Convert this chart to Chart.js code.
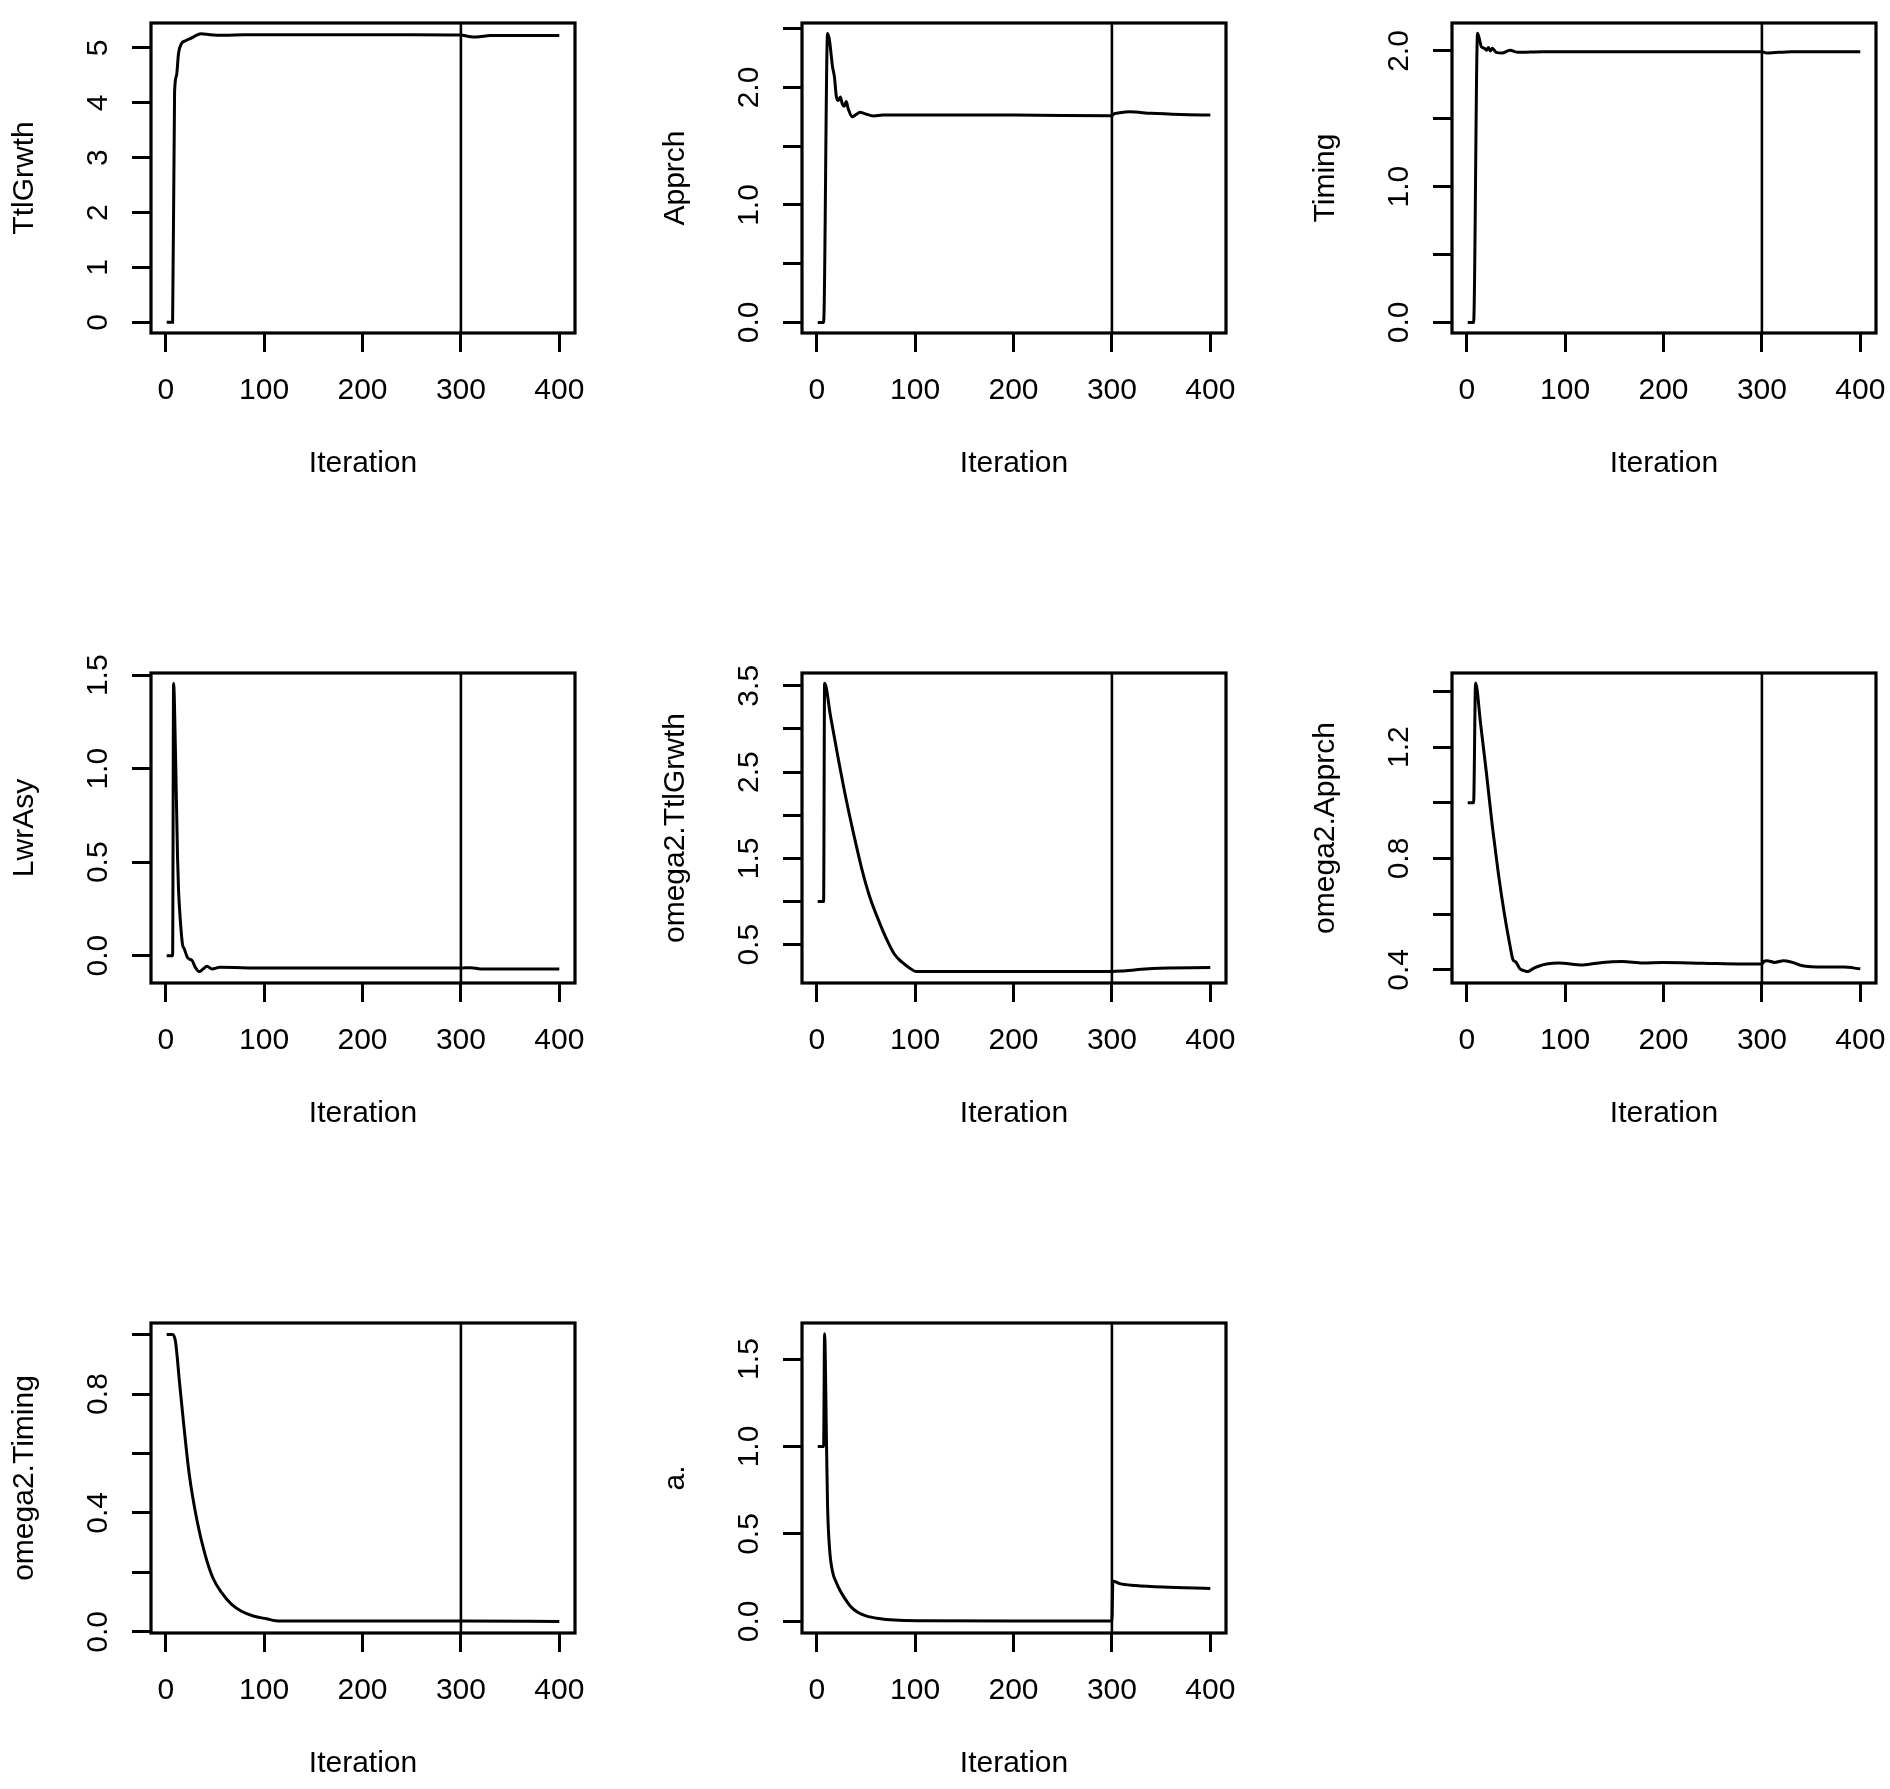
<!DOCTYPE html>
<html>
<head>
<meta charset="utf-8">
<script src="https://cdn.jsdelivr.net/npm/chart.js@4.4.1/dist/chart.umd.min.js"></script>
<style>
  body { margin: 0; background: #fff; width: 1890px; height: 1789px; overflow: hidden; position: relative; }
  canvas { position: absolute; }
</style>
</head>
<body>
<canvas id="p1"></canvas>
<canvas id="p2"></canvas>
<canvas id="p3"></canvas>
<canvas id="p4"></canvas>
<canvas id="p5"></canvas>
<canvas id="p6"></canvas>
<canvas id="p7"></canvas>
<canvas id="p8"></canvas>
<script>
// Shared x axis
const xTicks = [0, 100, 200, 300, 400];
const burnIn = 300;

// TtlGrwth
const iterTtlGrwth = [1, 7, 9, 11, 13, 16, 20, 26, 32, 36, 45, 60, 80, 150, 250, 300, 308, 316, 330, 400];
const valTtlGrwth = [0, 0, 4.2, 4.5, 4.9, 5.08, 5.13, 5.18, 5.24, 5.26, 5.24, 5.23, 5.24, 5.24, 5.24, 5.235, 5.21, 5.2, 5.225, 5.225];
const ticksTtlGrwth = [0, 1, 2, 3, 4, 5];
const labelsTtlGrwth = ['0', '1', '2', '3', '4', '5'];

// Apprch
const iterApprch = [1, 7, 11, 13, 16, 18, 20, 22, 24, 26, 28, 30, 32, 36, 40, 44, 48, 58, 67, 100, 200, 300, 302, 308, 318, 340, 370, 400];
const valApprch = [0, 0, 2.46, 2.4, 2.18, 2.09, 1.92, 1.89, 1.92, 1.86, 1.84, 1.88, 1.82, 1.75, 1.77, 1.79, 1.78, 1.757, 1.765, 1.765, 1.765, 1.76, 1.775, 1.785, 1.793, 1.78, 1.77, 1.765];
const ticksApprch = [0, 0.5, 1, 1.5, 2, 2.5];
const labelsApprch = ['0.0', '', '1.0', '', '2.0', ''];

// Timing
const iterTiming = [1, 7, 11, 15, 18, 20, 22, 24, 26, 30, 36, 44, 52, 77, 150, 300, 305, 330, 400];
const valTiming = [0, 0, 2.13, 2.03, 2.02, 2.005, 2.025, 2.0, 2.02, 1.99, 1.985, 2.005, 1.99, 1.995, 1.995, 1.995, 1.985, 1.995, 1.995];
const ticksTiming = [0, 0.5, 1, 1.5, 2];
const labelsTiming = ['0.0', '', '1.0', '', '2.0'];

// LwrAsy
const iterLwrAsy = [1, 7, 8, 10, 12, 13, 15, 17, 19, 22, 24, 27, 30, 34, 38, 42, 47, 55, 100, 200, 300, 310, 320, 400];
const valLwrAsy = [0, 0, 1.456, 1.065, 0.53, 0.355, 0.178, 0.062, 0.035, -0.009, -0.018, -0.027, -0.062, -0.085, -0.071, -0.057, -0.071, -0.062, -0.066, -0.066, -0.066, -0.064, -0.071, -0.071];
const ticksLwrAsy = [0, 0.5, 1, 1.5];
const labelsLwrAsy = ['0.0', '0.5', '1.0', '1.5'];

// omega2.TtlGrwth
const iterOmTtl = [1, 7, 8, 14, 22, 30, 38, 46, 54, 63, 71, 79, 87, 95, 101, 150, 250, 300, 312, 341, 400];
const valOmTtl = [1, 1, 3.53, 3.15, 2.65, 2.18, 1.76, 1.37, 1.05, 0.78, 0.565, 0.39, 0.295, 0.226, 0.19, 0.19, 0.19, 0.19, 0.197, 0.226, 0.237];
const ticksOmTtl = [0.5, 1, 1.5, 2, 2.5, 3, 3.5];
const labelsOmTtl = ['0.5', '', '1.5', '', '2.5', '', '3.5'];

// omega2.Apprch
const iterOmApp = [1, 7, 9, 14, 20, 26, 32, 38, 44, 47, 50, 54, 58, 62, 67, 73, 81, 93, 118, 138, 158, 179, 199, 240, 281, 300, 302, 305, 313, 322, 330, 340, 363, 383, 400];
const valOmApp = [1, 1, 1.43, 1.287, 1.108, 0.917, 0.75, 0.607, 0.487, 0.437, 0.428, 0.404, 0.398, 0.394, 0.404, 0.413, 0.421, 0.425, 0.418, 0.427, 0.43, 0.425, 0.427, 0.424, 0.421, 0.421, 0.43, 0.433, 0.427, 0.433, 0.428, 0.416, 0.41, 0.41, 0.404];
const ticksOmApp = [0.4, 0.6, 0.8, 1.0, 1.2, 1.4];
const labelsOmApp = ['0.4', '', '0.8', '', '1.2', ''];

// omega2.Timing
const iterOmTim = [1, 7, 10, 14, 18, 24, 32, 40, 48, 57, 67, 77, 89, 102, 116, 200, 300, 400];
const valOmTim = [1, 1, 0.975, 0.84, 0.707, 0.528, 0.371, 0.26, 0.181, 0.131, 0.092, 0.069, 0.053, 0.044, 0.036, 0.036, 0.036, 0.035];
const ticksOmTim = [0, 0.2, 0.4, 0.6, 0.8, 1.0];
const labelsOmTim = ['0.0', '', '0.4', '', '0.8', ''];

// a.
const iterA = [1, 7, 8, 10, 11, 13, 16, 20, 24, 28, 34, 42, 50, 63, 79, 108, 200, 300, 301, 308, 324, 352, 400];
const valA = [1, 1, 1.644, 1.0, 0.666, 0.42, 0.287, 0.221, 0.174, 0.136, 0.089, 0.051, 0.032, 0.017, 0.008, 0.004, 0.002, 0.002, 0.231, 0.216, 0.206, 0.197, 0.189];
const ticksA = [0, 0.5, 1, 1.5];
const labelsA = ['0.0', '0.5', '1.0', '1.5'];

const FONT = "'Liberation Sans', Arial, Helvetica, sans-serif";
const boxLefts = [151, 802, 1452];
const boxTops = [23, 673, 1323];
const boxW = 424, boxH = 310;
const axisW = 150, axisH = 149, padTop = 20, padRight = 14;

const panels = [
  { id: 'p1', name: 'TtlGrwth', iter: iterTtlGrwth, vals: valTtlGrwth, ticks: ticksTtlGrwth, labels: labelsTtlGrwth, yMin: -0.195, yMax: 5.455, col: 0, row: 0 },
  { id: 'p2', name: 'Apprch', iter: iterApprch, vals: valApprch, ticks: ticksApprch, labels: labelsApprch, yMin: -0.09, yMax: 2.549, col: 1, row: 0 },
  { id: 'p3', name: 'Timing', iter: iterTiming, vals: valTiming, ticks: ticksTiming, labels: labelsTiming, yMin: -0.078, yMax: 2.206, col: 2, row: 0 },
  { id: 'p4', name: 'LwrAsy', iter: iterLwrAsy, vals: valLwrAsy, ticks: ticksLwrAsy, labels: labelsLwrAsy, yMin: -0.146, yMax: 1.512, col: 0, row: 1 },
  { id: 'p5', name: 'omega2.TtlGrwth', iter: iterOmTtl, vals: valOmTtl, ticks: ticksOmTtl, labels: labelsOmTtl, yMin: 0.057, yMax: 3.648, col: 1, row: 1 },
  { id: 'p6', name: 'omega2.Apprch', iter: iterOmApp, vals: valOmApp, ticks: ticksOmApp, labels: labelsOmApp, yMin: 0.353, yMax: 1.466, col: 2, row: 1 },
  { id: 'p7', name: 'omega2.Timing', iter: iterOmTim, vals: valOmTim, ticks: ticksOmTim, labels: labelsOmTim, yMin: -0.004, yMax: 1.039, col: 0, row: 2 },
  { id: 'p8', name: 'a.', iter: iterA, vals: valA, ticks: ticksA, labels: labelsA, yMin: -0.066, yMax: 1.706, col: 1, row: 2 }
];

// R-style box around the plot region
const rBox = {
  id: 'rBox',
  afterDraw(chart) {
    const { ctx, chartArea: a } = chart;
    ctx.save();
    ctx.strokeStyle = '#000';
    ctx.lineWidth = 3.2;
    ctx.strokeRect(a.left, a.top, a.right - a.left, a.bottom - a.top);
    ctx.restore();
  }
};

// Rotated y tick labels (R draws them parallel to the axis)
const rYLabels = {
  id: 'rYLabels',
  afterDraw(chart, args, opts) {
    const { ctx, chartArea } = chart;
    const y = chart.scales.y;
    ctx.save();
    ctx.fillStyle = '#000';
    ctx.font = '30px ' + FONT;
    ctx.textAlign = 'center';
    ctx.textBaseline = 'alphabetic';
    opts.ticks.forEach((v, i) => {
      if (!opts.labels[i]) return;
      ctx.save();
      ctx.translate(chartArea.left - 44.5, y.getPixelForValue(v));
      ctx.rotate(-Math.PI / 2);
      ctx.fillText(opts.labels[i], 0, 0);
      ctx.restore();
    });
    ctx.restore();
  }
};

const tickGrid = { drawOnChartArea: false, drawTicks: true, tickLength: 19, tickWidth: 3, tickColor: '#000' };

function makeChart(p) {
  const canvas = document.getElementById(p.id);
  canvas.width = axisW + boxW + padRight;
  canvas.height = padTop + boxH + axisH;
  canvas.style.left = (boxLefts[p.col] - axisW) + 'px';
  canvas.style.top = (boxTops[p.row] - padTop) + 'px';

  new Chart(canvas, {
    type: 'line',
    data: {
      datasets: [
        {
          data: p.iter.map((x, i) => ({ x: x, y: p.vals[i] })),
          borderColor: '#000',
          borderWidth: 3,
          pointRadius: 0,
          cubicInterpolationMode: 'monotone'
        },
        {
          data: [{ x: burnIn, y: p.yMin }, { x: burnIn, y: p.yMax }],
          borderColor: '#000',
          borderWidth: 2.6,
          pointRadius: 0
        }
      ]
    },
    options: {
      responsive: false,
      animation: false,
      devicePixelRatio: 1,
      layout: { padding: { left: 0, top: padTop, right: padRight, bottom: 0 } },
      plugins: {
        legend: { display: false },
        tooltip: { enabled: false },
        rYLabels: { ticks: p.ticks, labels: p.labels }
      },
      scales: {
        x: {
          type: 'linear',
          min: -14.96,
          max: 415.96,
          afterBuildTicks: s => { s.ticks = xTicks.map(v => ({ value: v })); },
          afterFit: s => { s.height = axisH; s.paddingLeft = 0; s.paddingRight = 0; },
          grid: tickGrid,
          border: { display: false },
          ticks: {
            color: '#000',
            font: { family: FONT, size: 30 },
            padding: 21,
            maxRotation: 0,
            autoSkip: false,
            callback: v => String(v)
          },
          title: {
            display: true,
            text: 'Iteration',
            color: '#000',
            font: { family: FONT, size: 30, lineHeight: 1.2 },
            padding: 0
          }
        },
        y: {
          type: 'linear',
          min: p.yMin,
          max: p.yMax,
          afterBuildTicks: s => { s.ticks = p.ticks.map(v => ({ value: v })); },
          afterFit: s => { s.width = axisW; s.paddingTop = 0; s.paddingBottom = 0; },
          grid: tickGrid,
          border: { display: false },
          ticks: { display: false },
          title: {
            display: true,
            text: p.name,
            color: '#000',
            font: { family: FONT, size: 30, lineHeight: 1.2 },
            padding: { top: 6, bottom: 0 }
          }
        }
      }
    },
    plugins: [rBox, rYLabels]
  });
}

panels.forEach(makeChart);
</script>
</body>
</html>
